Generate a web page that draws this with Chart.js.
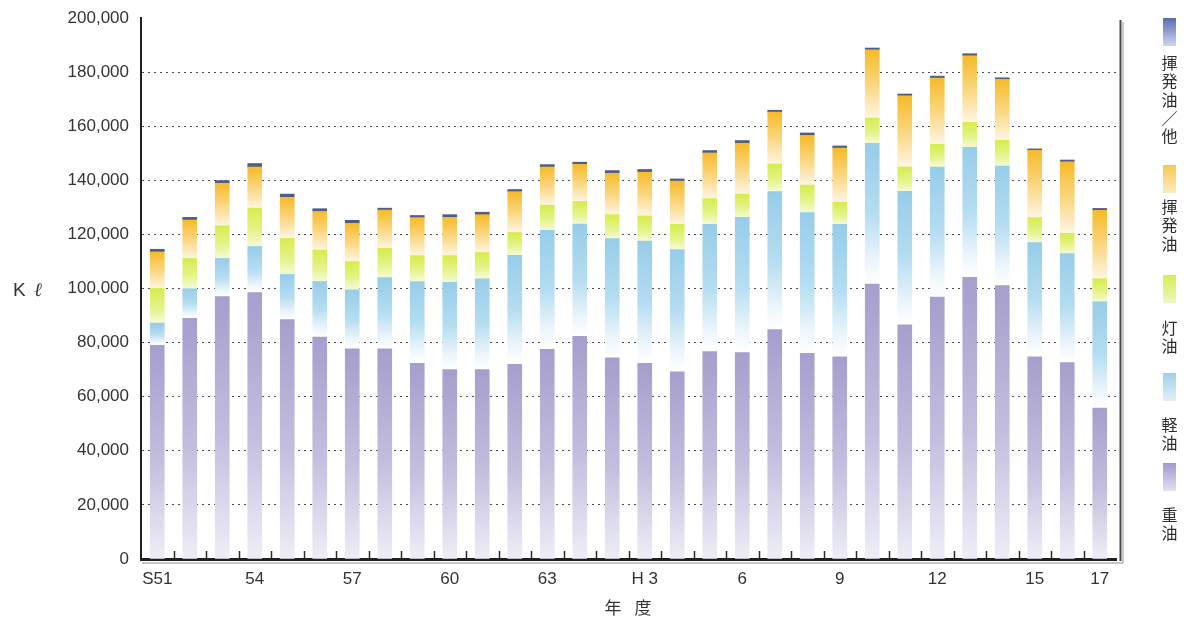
<!DOCTYPE html>
<html>
<head>
<meta charset="utf-8">
<script src="https://cdn.jsdelivr.net/npm/chart.js@4.4.1/dist/chart.umd.min.js"></script>
<style>
  html, body { margin: 0; padding: 0; background: #ffffff; }
  #wrap { width: 1187px; height: 628px; }
</style>
</head>
<body>
<div id="wrap"><canvas id="c" width="1187" height="628"></canvas></div>
<script>
// 年度 (昭和51年度 〜 平成17年度)
const years = ['S51','S52','S53','S54','S55','S56','S57','S58','S59','S60','S61','S62','S63',
               'H1','H2','H3','H4','H5','H6','H7','H8','H9','H10','H11','H12','H13','H14','H15','H16','H17'];
const tickLabels = ['S51','','','54','','','57','','','60','','','63',
                    '','','H 3','','','6','','','9','','','12','','','15','','17'];
const yTicks = [0, 20000, 40000, 60000, 80000, 100000, 120000, 140000, 160000, 180000, 200000];

// 油種別の量 (Kℓ)
const heavyOil = [79000, 89000, 97000, 98500, 88500, 82000, 77700, 77700, 72300, 70000,
                  70000, 72000, 77500, 82300, 74400, 72300, 69200, 76700, 76300, 84800,
                  76000, 74700, 101600, 86600, 96800, 104100, 101100, 74700, 72600, 55800];
const lightOil = [8200, 10900, 14100, 17000, 16700, 20600, 21800, 26300, 30300, 32300,
                  33600, 40300, 44000, 41500, 44100, 45200, 45200, 47000, 50000, 51000,
                  52100, 49000, 52100, 49300, 48100, 48100, 44200, 42300, 40300, 39300];
const kerosene = [12800, 11200, 12100, 14200, 13300, 11600, 10500, 10900, 9600, 9900,
                  9700, 8400, 9300, 8400, 8800, 9300, 9300, 9500, 8600, 10200,
                  10100, 8200, 9300, 9000, 8400, 9200, 9500, 9200, 7500, 8500];
const gasoline = [13500, 14200, 15700, 15200, 15200, 14300, 14100, 14100, 14000, 14100,
                  14000, 15100, 14100, 13700, 15300, 16200, 16000, 16900, 18800, 19200,
                  18400, 20000, 25200, 26300, 24500, 24600, 22500, 24900, 26400, 25300];
const gasolineOther = [1000, 1000, 1000, 1300, 1200, 1000, 1100, 700, 800, 1000,
                       900, 800, 900, 800, 1000, 1000, 800, 900, 1000, 700,
                       900, 800, 700, 700, 700, 800, 600, 500, 700, 700];

const seriesNames = ['重油', '軽油', '灯油', '揮発油', '揮発油／他'];
const seriesValues = [heavyOil, lightOil, kerosene, gasoline, gasolineOther];

// gradient stops for each series (top of segment -> bottom of segment)
const seriesStops = [
  [[0, 'rgb(166,158,204)'], [0.55, 'rgb(196,191,223)'], [1, 'rgb(238,238,247)']],
  [[0, 'rgb(150,205,233)'], [0.5, 'rgb(182,221,241)'], [0.85, 'rgb(238,247,252)'], [1, 'rgb(255,255,255)']],
  [[0, 'rgb(214,236,78)'], [0.55, 'rgb(229,243,135)'], [1, 'rgb(246,250,214)']],
  [[0, 'rgb(246,187,42)'], [0.5, 'rgb(250,214,126)'], [1, 'rgb(254,246,228)']],
  [[0, 'rgb(80,92,136)'], [1, 'rgb(80,92,136)']]
];
const legendStops = [
  [[0, 'rgb(162,154,204)'], [1, 'rgb(226,224,242)']],
  [[0, 'rgb(158,208,234)'], [1, 'rgb(226,240,249)']],
  [[0, 'rgb(214,236,78)'], [1, 'rgb(240,248,196)']],
  [[0, 'rgb(246,200,80)'], [1, 'rgb(252,236,196)']],
  [[0, 'rgb(88,108,178)'], [1, 'rgb(206,214,238)']]
];

function segmentFill(seriesIdx) {
  return (ctx) => {
    const chart = ctx.chart;
    const stops = seriesStops[seriesIdx];
    if (!chart.chartArea || ctx.type !== 'data' || !chart.scales.y) return stops[0][1];
    const i = ctx.dataIndex;
    let base = 0;
    for (let s = 0; s < seriesIdx; s++) base += seriesValues[s][i];
    const top = base + seriesValues[seriesIdx][i];
    const ys = chart.scales.y;
    const y0 = ys.getPixelForValue(top);
    const y1 = ys.getPixelForValue(base);
    if (!(y1 > y0)) return stops[0][1];
    const g = chart.ctx.createLinearGradient(0, y0, 0, y1);
    stops.forEach(([p, c]) => g.addColorStop(p, c));
    return g;
  };
}

const datasets = seriesValues.map((vals, k) => ({
  label: seriesNames[k],
  data: vals,
  backgroundColor: segmentFill(k),
  borderWidth: 0,
  barThickness: 14,
  stack: 'oil'
}));

const decorations = {
  id: 'decorations',
  afterDatasetsDraw(chart) {
    const { ctx, chartArea, scales: { x } } = chart;
    ctx.save();
    // small upward tick marks between the years
    ctx.strokeStyle = '#2a2a2a';
    ctx.lineWidth = 1.5;
    for (let i = 0; i < years.length - 1; i++) {
      const px = Math.round((x.getPixelForValue(i) + x.getPixelForValue(i + 1)) / 2) + 0.5;
      ctx.beginPath();
      ctx.moveTo(px, chartArea.bottom);
      ctx.lineTo(px, chartArea.bottom - 8);
      ctx.stroke();
    }
    // soft shadow under the base line
    ctx.strokeStyle = 'rgba(0,0,0,0.22)';
    ctx.lineWidth = 2;
    ctx.beginPath();
    ctx.moveTo(chartArea.left + 1, chartArea.bottom + 4);
    ctx.lineTo(1123, chartArea.bottom + 4);
    ctx.stroke();
    // right frame line with its shadow
    ctx.strokeStyle = 'rgba(0,0,0,0.2)';
    ctx.lineWidth = 2;
    ctx.beginPath();
    ctx.moveTo(1123, 22);
    ctx.lineTo(1123, chartArea.bottom + 4);
    ctx.stroke();
    ctx.strokeStyle = '#4a4a4a';
    ctx.lineWidth = 2;
    ctx.beginPath();
    ctx.moveTo(1120.5, 20);
    ctx.lineTo(1120.5, chartArea.bottom + 2);
    ctx.stroke();

    // unit and axis title
    ctx.fillStyle = '#333333';
    ctx.textAlign = 'left';
    ctx.textBaseline = 'middle';
    ctx.font = '19px "Liberation Sans", Arial, sans-serif';
    ctx.fillText('K', 13, 291);
    ctx.font = 'italic 19px "DejaVu Serif", serif';
    ctx.fillText('ℓ', 34, 291);
    ctx.textAlign = 'center';
    ctx.font = '17px "Noto Sans CJK JP", sans-serif';
    ctx.fillText('年', 613, 608);
    ctx.fillText('度', 643, 608);

    // legend: colour chip with the name written vertically beneath
    const chipTops = [18, 165, 275, 373, 463];
    const firstChar = [63, 207, 328, 425, 515];
    const order = [4, 3, 2, 1, 0];
    ctx.font = '16px "Noto Sans CJK JP", sans-serif';
    order.forEach((s, k) => {
      const t = chipTops[k];
      const g = ctx.createLinearGradient(0, t, 0, t + 28);
      legendStops[s].forEach(([p, c]) => g.addColorStop(p, c));
      ctx.fillStyle = g;
      ctx.fillRect(1163, t, 13, 28);
      ctx.fillStyle = '#2e2e2e';
      Array.from(chart.data.datasets[s].label).forEach((ch, j) => {
        ctx.fillText(ch, 1169.5, firstChar[k] + j * 18.3);
      });
    });
    ctx.restore();
  }
};

new Chart(document.getElementById('c'), {
  type: 'bar',
  data: { labels: years, datasets },
  options: {
    responsive: false,
    devicePixelRatio: 1,
    animation: false,
    layout: { padding: { top: 18, right: 71, bottom: 0, left: 0 } },
    plugins: { legend: { display: false }, tooltip: { enabled: false } },
    scales: {
      x: {
        stacked: true,
        z: 1,
        offset: true,
        grid: { display: false, drawTicks: false },
        border: { display: true, color: '#1f1f1f', width: 3 },
        ticks: {
          autoSkip: false,
          maxRotation: 0,
          padding: 10,
          color: '#333333',
          font: { family: '"Liberation Sans", Arial, sans-serif', size: 17 },
          callback: (v, i) => tickLabels[i]
        },
        afterFit: (s) => { s.height = 69; s.paddingLeft = 0; s.paddingRight = 0; }
      },
      y: {
        stacked: true,
        min: 0,
        max: 200000,
        afterBuildTicks: (s) => { s.ticks = yTicks.map(v => ({ value: v })); },
        grid: {
          drawTicks: false,
          color: (c) => (c.tick && (c.tick.value === 0 || c.tick.value === 200000)) ? 'rgba(0,0,0,0)' : '#4a4a4a',
          lineWidth: 1
        },
        border: { display: true, color: '#1f1f1f', width: 2, dash: [2, 4] },
        ticks: {
          padding: 12,
          color: '#333333',
          font: { family: '"Liberation Sans", Arial, sans-serif', size: 17 },
          callback: (v) => Number(v).toLocaleString('en-US')
        },
        afterFit: (s) => { s.width = 141; s.paddingTop = 0; s.paddingBottom = 0; }
      }
    }
  },
  plugins: [decorations]
});
</script>
</body>
</html>
